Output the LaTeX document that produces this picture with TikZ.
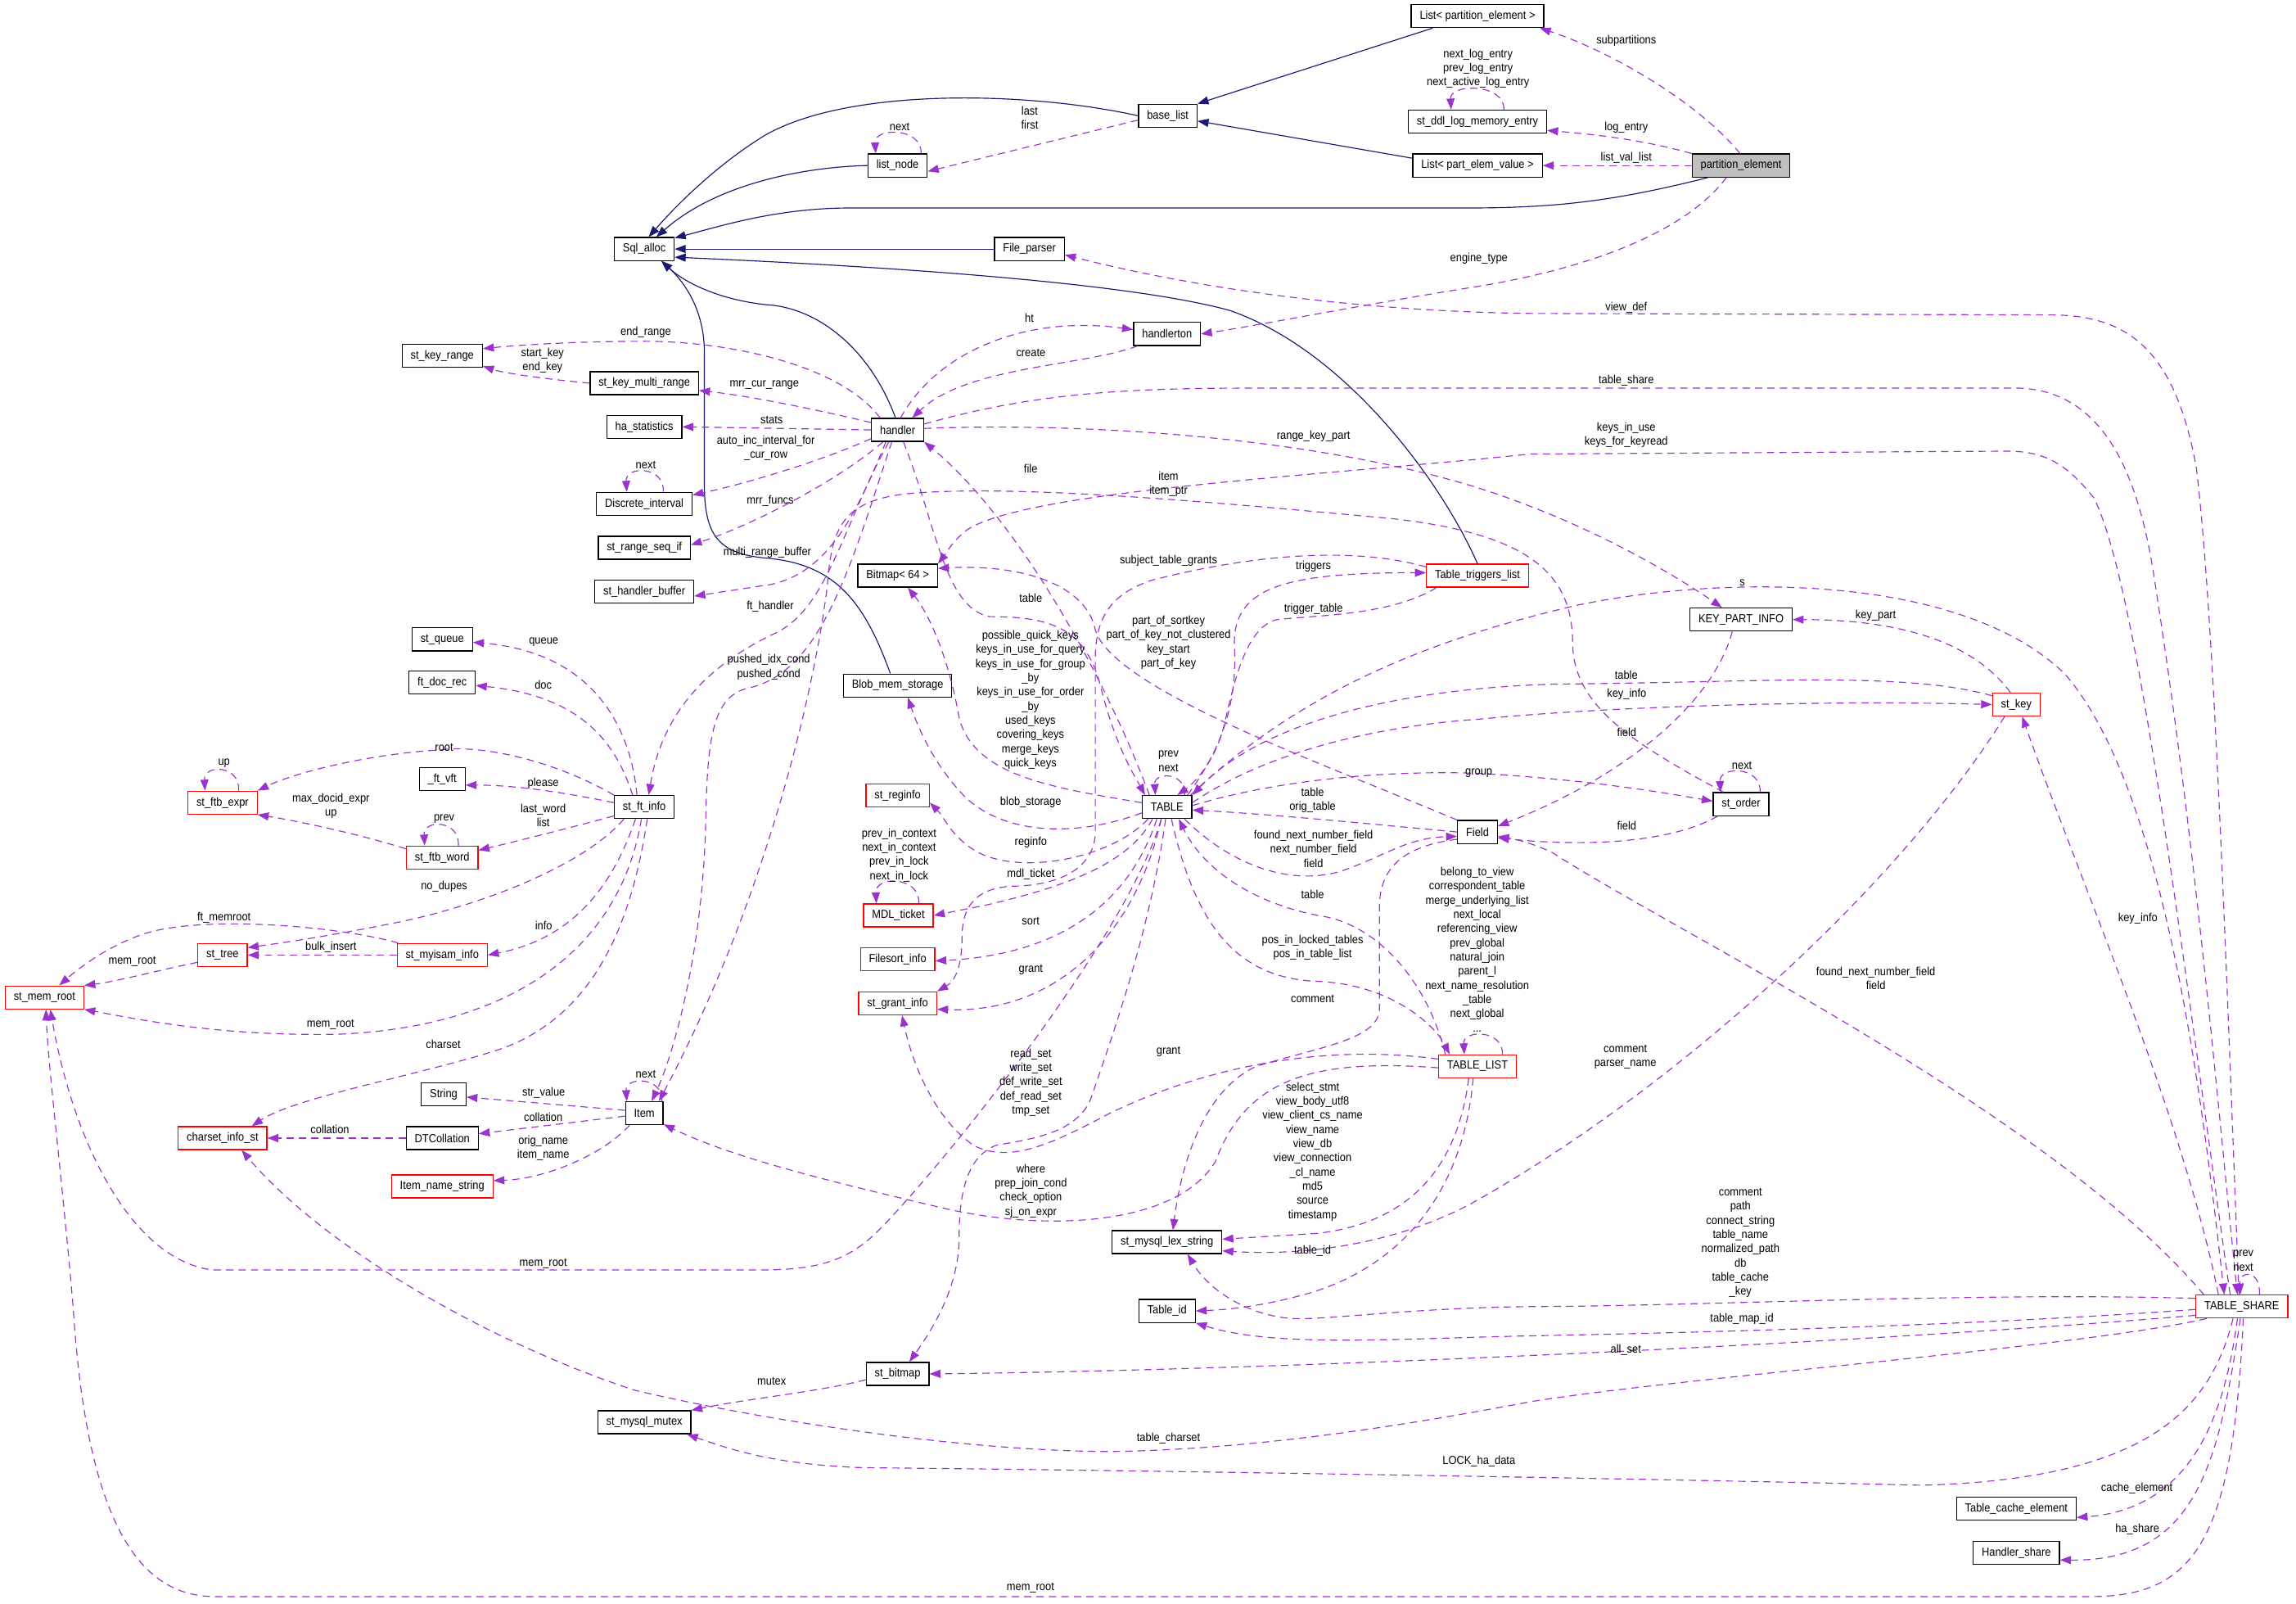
\documentclass[tikz,border=0pt]{standalone}
\usepackage{fontspec}
\setmainfont{Liberation Sans}[FakeStretch=0.9]
\usetikzlibrary{arrows.meta}
\definecolor{usePurple}{RGB}{154,50,205}
\definecolor{inhBlue}{RGB}{25,25,112}
\definecolor{boxRed}{RGB}{255,0,0}
\definecolor{focusGray}{RGB}{191,191,191}

\begin{document}
\begin{tikzpicture}[x=1pt,y=-1pt,
  every node/.style={font=\fontsize{8}{9.7}\selectfont},
  cls/.style={draw=black, line width=0.7pt, fill=white, minimum height=15.7pt, inner xsep=5.8pt, inner ysep=0pt},
  clsred/.style={cls, draw=boxRed},
  clsfocus/.style={cls, fill=focusGray},
  lbl/.style={align=center, inner sep=0pt},
  use/.style={draw=usePurple, line width=0.65pt, dash pattern=on 5pt off 3.5pt, -{Triangle[length=7.5pt,width=5.5pt]}},
  inh/.style={draw=inhBlue, line width=0.65pt, -{Triangle[length=7.5pt,width=5.5pt]}}]
\useasboundingbox (0,0) rectangle (1568,1095);

% classes
\node[cls] (sqlalloc) at (440,170) {Sql\_alloc};
\node[cls] (filep) at (703,170) {File\_parser};
\node[cls] (baselist) at (797.5,79) {base\_list};
\node[cls] (listnode) at (613,113) {list\_node};
\node[cls] (listpe) at (1009,11) {List< partition\_element >};
\node[cls] (ddllog) at (1009,83) {st\_ddl\_log\_memory\_entry};
\node[cls] (listpev) at (1009,113) {List< part\_elem\_value >};
\node[clsfocus] (partel) at (1189,113) {partition\_element};
\node[cls] (handlerton) at (797,228) {handlerton};
\node[cls] (keyrange) at (302,243) {st\_key\_range};
\node[cls] (keymulti) at (440,261.6) {st\_key\_multi\_range};
\node[cls] (hastat) at (440,291.4) {ha\_statistics};
\node[cls] (handler) at (613,293.5) {handler};
\node[cls] (discrete) at (440,344) {Discrete\_interval};
\node[cls] (rangeseq) at (440,374) {st\_range\_seq\_if};
\node[cls] (hbuffer) at (440,404) {st\_handler\_buffer};
\node[cls] (bitmap) at (613,393) {Bitmap< 64 >};
\node[clsred] (trigl) at (1009,393) {Table\_triggers\_list};
\node[cls] (keypart) at (1189,423) {KEY\_PART\_INFO};
\node[clsred] (stkey) at (1377,481) {st\_key};
\node[cls] (stqueue) at (302,436.5) {st\_queue};
\node[cls] (ftdoc) at (302,466) {ft\_doc\_rec};
\node[cls] (blob) at (613,468) {Blob\_mem\_storage};
\node[clsred] (ftbexpr) at (152,548) {st\_ftb\_expr};
\node[cls] (ftvft) at (302,532) {\_ft\_vft};
\node[cls] (ftinfo) at (440,551) {st\_ft\_info};
\node[clsred] (ftbword) at (302,585.5) {st\_ftb\_word};
\node[clsred] (reginfo) at (613,543) {st\_reginfo};
\node[cls] (table) at (797,551) {TABLE};
\node[cls] (storder) at (1189,549) {st\_order};
\node[cls] (field) at (1009,568) {Field};
\node[clsred] (mdl) at (613.5,625) {MDL\_ticket};
\node[clsred] (filesort) at (613,655) {Filesort\_info};
\node[clsred] (sttree) at (152,652) {st\_tree};
\node[clsred] (myisam) at (302,652) {st\_myisam\_info};
\node[clsred] (memroot) at (30.4,681) {st\_mem\_root};
\node[clsred] (grant) at (613,685) {st\_grant\_info};
\node[clsred] (tablelist) at (1009,728) {TABLE\_LIST};
\node[cls] (string) at (303,747) {String};
\node[cls] (item) at (440,760) {Item};
\node[clsred] (charset) at (152,777) {charset\_info\_st};
\node[cls] (dtcoll) at (302,777) {DTCollation};
\node[clsred] (itemname) at (302,810) {Item\_name\_string};
\node[cls] (lexstr) at (797,848) {st\_mysql\_lex\_string};
\node[cls] (tableid) at (797,895) {Table\_id};
\node[clsred] (tshare) at (1531,892) {TABLE\_SHARE};
\node[cls] (stbitmap) at (613,938) {st\_bitmap};
\node[cls] (mutex) at (440,971) {st\_mysql\_mutex};
\node[cls] (tcache) at (1377,1030) {Table\_cache\_element};
\node[cls] (hshare) at (1377,1060) {Handler\_share};

% inheritance
\draw[inh] (baselist.west) .. controls (700,62) and (580,60) .. (523,92) .. controls (490,112) and (462,140) .. (sqlalloc.70);
\draw[inh] (listnode.west) .. controls (550,114) and (490,125) .. (sqlalloc.45);
\draw[inh] (partel.200) .. controls (1100,138) and (1060,142) .. (1000,142) -- (580,142) .. controls (530,142) and (490,155) .. (sqlalloc.20);
\draw[inh] (filep.west) -- (sqlalloc.east);
\draw[inh] (trigl.north) .. controls (985,330) and (920,240) .. (840,212) .. controls (760,190) and (560,180) .. (sqlalloc.-15);
\draw[inh] (handler.100) .. controls (595,240) and (560,210) .. (523,208) .. controls (495,205) and (470,195) .. (sqlalloc.-35);
\draw[inh] ([xshift=-5pt]blob.north) .. controls (590,410) and (570,385) .. (523,381) .. controls (490,378) and (481,365) .. (481,330) -- (481,240) .. controls (481,215) and (470,195) .. (sqlalloc.-35);
\draw[inh] (listpe.195) -- (baselist.north east);
\draw[inh] ([yshift=5pt]listpev.west) -- (baselist.-10);

% partition_element and lists
\draw[use] (partel.95) .. controls (1160,70) and (1100,35) .. ([xshift=-3pt]listpe.south east);
\draw[use] (partel.north west) .. controls (1120,95) and (1090,92) .. ([yshift=-6pt]ddllog.east);
\draw[use] (partel.west) -- (listpev.east);
\draw[use] ([xshift=-10pt]partel.south) .. controls (1150,160) and (1080,185) .. (1000,197) .. controls (920,210) and (860,222) .. (handlerton.east);
\draw[use] ([xshift=18pt]ddllog.north) .. controls +(1,-18) and +(-1,-18) .. ([xshift=-18pt]ddllog.north);
\draw[use] ([yshift=-3pt]baselist.west) -- ([yshift=-4pt]listnode.east);
\draw[use] ([xshift=16pt]listnode.north) .. controls +(1,-18) and +(-1,-18) .. ([xshift=-15pt]listnode.north);

% TABLE_SHARE upward
\draw[use] ([xshift=-2pt]tshare.north) .. controls (1520,650) and (1512,420) .. (1500,320) .. controls (1485,235) and (1450,215) .. (1400,215) -- (1045,214) .. controls (900,212) and (790,190) .. ([yshift=-4pt]filep.east);
\draw[use] ([yshift=4pt]handler.east) .. controls (700,270) and (760,265) .. (850,265) -- (1380,265) .. controls (1440,268) and (1462,330) .. (1472,400) .. controls (1500,580) and (1515,760) .. ([xshift=-3pt]tshare.north);
\draw[use] ([xshift=-8pt]tshare.north) .. controls (1490,650) and (1460,400) .. (1430,340) .. controls (1410,315) and (1395,308) .. (1370,308) -- (1045,310) .. controls (900,325) and (700,335) .. (660,362) .. controls (650,370) and (646,378) .. (bitmap.north east);
\draw[use] ([xshift=-16pt]tshare.north) .. controls (1490,760) and (1420,600) .. ([xshift=4pt]stkey.south);
\draw[use] ([xshift=-26pt]tshare.north) .. controls (1400,760) and (1150,640) .. (1060,582) .. controls (1045,575) and (1035,573) .. ([yshift=-3pt]field.east);
\draw[use] ([xshift=12pt]tshare.north) .. controls +(1,-17) and +(-1,-17) .. ([xshift=-1pt]tshare.north);

% handler
\draw[use] ([xshift=2pt]handler.north) .. controls (640,240) and (700,215) .. ([yshift=3pt]handlerton.west);
\draw[use] ([xshift=3pt]handlerton.south west) .. controls (740,250) and (660,250) .. ([xshift=10pt]handler.north);
\draw[use] ([xshift=-12pt]handler.north) .. controls (575,250) and (500,233) .. (440,233) .. controls (390,233) and (350,236) .. ([yshift=5pt]keyrange.east);
\draw[use] (keymulti.west) .. controls (375,259) and (345,255) .. ([yshift=-7pt]keyrange.east);
\draw[use] ([yshift=5pt]handler.west) .. controls (560,280) and (510,270) .. ([yshift=-5pt]keymulti.east);
\draw[use] (handler.west) -- (hastat.east);
\draw[use] ([yshift=-6pt]handler.west) .. controls (560,315) and (510,330) .. ([yshift=6pt]discrete.east);
\draw[use] ([xshift=13pt]discrete.north) .. controls +(1,-18) and +(-1,-18) .. ([xshift=-12pt]discrete.north);
\draw[use] ([xshift=-10pt]handler.south) .. controls (570,330) and (510,360) .. ([yshift=2pt]rangeseq.east);
\draw[use] ([xshift=-8pt]handler.south) .. controls (585,350) and (565,395) .. (520,400) -- ([yshift=-3pt]hbuffer.east);
\draw[use] ([xshift=-6pt]handler.south) .. controls (575,360) and (565,415) .. (530,432) .. controls (470,460) and (450,500) .. ([xshift=3pt]ftinfo.north);
\draw[use] ([xshift=-4pt]handler.south) .. controls (580,390) and (560,460) .. (510,470) .. controls (488,476) and (483,500) .. (482,560) .. controls (480,650) and (460,720) .. ([xshift=5pt]item.north);
\draw[use] ([xshift=-12pt]table.north) .. controls (750,450) and (690,350) .. (handler.south east);
\draw[use] ([xshift=4pt]handler.south) .. controls (640,360) and (645,415) .. (676,421) .. controls (720,421) and (742,430) .. (752,470) .. controls (762,510) and (775,530) .. ([xshift=-15pt]table.north);
\draw[use] ([yshift=1pt]handler.east) .. controls (750,288) and (900,300) .. (1006,332) .. controls (1080,355) and (1140,390) .. ([xshift=-13pt]keypart.north);

% TABLE
\draw[use] ([yshift=3pt]table.west) .. controls (720,538) and (665,530) .. (655,490) .. controls (648,450) and (635,420) .. ([xshift=7pt]bitmap.south);
\draw[use] (field.north west) .. controls (900,520) and (760,470) .. (748,430) .. controls (742,400) and (700,385) .. ([yshift=5pt]bitmap.east);
\draw[use] ([yshift=-4pt]table.west) .. controls (740,570) and (690,572) .. (660,545) .. controls (640,525) and (628,500) .. ([xshift=7pt]blob.south);
\draw[use] ([xshift=-13pt]table.south) .. controls (760,585) and (700,598) .. (668,582) .. controls (650,572) and (645,558) .. ([yshift=-5pt]reginfo.east);
\draw[use] ([xshift=-10pt]table.south) .. controls (770,592) and (720,607) .. (673,618) -- (mdl.east);
\draw[use] ([xshift=14pt]mdl.north) .. controls +(1,-19) and +(-1,-19) .. ([xshift=-15pt]mdl.north);
\draw[use] ([xshift=-7pt]table.south) .. controls (770,620) and (720,652) .. ([yshift=-1pt]filesort.east);
\draw[use] ([xshift=-4pt]table.south) .. controls (775,640) and (720,692) .. ([yshift=-4pt]grant.east);
\draw[use] ([xshift=-1pt]table.south) .. controls (785,640) and (755,720) .. (745,750) .. controls (735,775) and (700,778) .. (680,782) .. controls (660,790) and (655,815) .. (655,845) .. controls (655,880) and (635,910) .. ([xshift=8pt]stbitmap.north);
\draw[use] ([xshift=-4pt]table.south) .. controls (770,640) and (640,800) .. (600,840) .. controls (580,860) and (560,867) .. (520,867) -- (145,867) .. controls (90,860) and (50,780) .. ([xshift=4pt]memroot.south);
\draw[use] ([xshift=14pt]table.north) .. controls (835,510) and (845,480) .. (843,440) .. controls (842,400) and (880,391) .. ([yshift=2pt]trigl.west);
\draw[use] ([xshift=-28pt]trigl.south) .. controls (950,420) and (900,420) .. (872,423) .. controls (850,428) and (842,470) .. (836,495) .. controls (830,520) and (815,535) .. ([xshift=7pt]table.north);
\draw[use] ([xshift=12pt]table.north) .. controls +(1,-16) and +(-1,-16) .. ([xshift=-8pt]table.north);
\draw[use] ([yshift=6pt]trigl.west) .. controls (920,372) and (850,380) .. (787,396) .. controls (760,405) and (748,420) .. (748,450) -- (748,570) .. controls (746,595) and (720,605) .. (690,605) .. controls (665,607) and (657,620) .. (657,640) .. controls (657,660) and (652,670) .. (grant.north east);
\draw[use] (stkey.160) .. controls (1300,458) and (1200,466) .. (1064,467) .. controls (950,470) and (860,495) .. (table.north east);
\draw[use] ([yshift=3pt]table.east) .. controls (870,510) and (950,495) .. (1010,491) .. controls (1100,482) and (1250,478) .. (stkey.west);
\draw[use] ([xshift=16pt]table.north) .. controls (880,480) and (960,440) .. (1078,413) .. controls (1180,392) and (1340,392) .. (1410,460) .. controls (1480,540) and (1505,760) .. ([xshift=-12pt]tshare.north);
\draw[use] ([yshift=1pt]table.east) .. controls (880,530) and (960,526) .. (1010,528) .. controls (1080,532) and (1130,540) .. ([yshift=2pt]storder.west);
\draw[use] ([xshift=12pt]table.south) .. controls (840,590) and (880,605) .. (915,595) .. controls (945,585) and (960,572) .. ([yshift=-3pt]field.west);
\draw[use] (field.west) .. controls (930,562) and (870,556) .. ([yshift=-2pt]table.east);
\draw[use] ([yshift=-5pt]field.west) .. controls (955,578) and (942,595) .. (942,620) -- (942,690) .. controls (940,710) and (900,715) .. (858,728) .. controls (820,745) and (806,800) .. ([xshift=4pt]lexstr.north);

% st_order, KEY_PART_INFO, st_key
\draw[use] ([xshift=-12pt]storder.north) .. controls (1110,505) and (1075,480) .. (1074,440) .. controls (1074,395) and (1050,365) .. (950,354) .. controls (850,345) and (700,330) .. (620,337) .. controls (575,342) and (568,360) .. (565,400) .. controls (555,480) and (520,620) .. ([xshift=10pt]item.north);
\draw[use] ([xshift=13pt]storder.north) .. controls +(1,-18) and +(-1,-18) .. ([xshift=-14pt]storder.north);
\draw[use] ([xshift=-16pt]storder.south) .. controls (1140,576) and (1080,578) .. ([yshift=-4pt]field.east);
\draw[use] ([xshift=-6pt]keypart.south) .. controls (1170,480) and (1110,530) .. ([yshift=4pt]field.east);
\draw[use] ([xshift=-4pt]stkey.north) .. controls (1345,435) and (1290,423) .. (keypart.east);
\draw[use] ([xshift=-8pt]stkey.south) .. controls (1300,600) and (1150,740) .. (1006,821) .. controls (960,846) and (900,858) .. ([yshift=-6pt]lexstr.east);

% TABLE_LIST
\draw[use] ([xshift=-22pt]tablelist.north) .. controls (975,670) and (940,630) .. (900,625) .. controls (850,615) and (820,590) .. ([xshift=8pt]table.south);
\draw[use] ([xshift=3pt]table.south) .. controls (815,625) and (840,668) .. (900,670) .. controls (950,672) and (980,700) .. ([xshift=-19pt]tablelist.north);
\draw[use] ([xshift=17pt]tablelist.north) .. controls +(1,-17) and +(-1,-17) .. ([xshift=-9pt]tablelist.north);
\draw[use] ([yshift=5pt]tablelist.west) .. controls (900,712) and (820,730) .. (758,760) .. controls (720,780) and (690,795) .. (665,782) .. controls (640,765) and (624,730) .. ([xshift=3pt]grant.south);
\draw[use] ([yshift=-1pt]tablelist.west) .. controls (890,722) and (850,740) .. (830,793) .. controls (805,835) and (720,842) .. (645,825) .. controls (560,805) and (500,790) .. (item.-30);
\draw[use] ([xshift=-6pt]tablelist.south) .. controls (995,800) and (960,835) .. (900,842) -- ([yshift=2pt]lexstr.east);
\draw[use] ([xshift=-3pt]tablelist.south) .. controls (1000,810) and (960,865) .. (890,884) .. controls (860,892) and (840,894) .. (tableid.east);

% TABLE_SHARE downward
\draw[use] (tshare.170) .. controls (1350,882) and (1150,892) .. (1045,892) .. controls (960,893) and (900,902) .. (880,900) .. controls (850,897) and (825,880) .. ([xshift=14pt]lexstr.south);
\draw[use] ([yshift=-2pt]tshare.west) .. controls (1350,905) and (1150,910) .. (1045,912) .. controls (950,914) and (870,920) .. (tableid.south east);
\draw[use] ([yshift=-6pt]tshare.west) .. controls (1300,915) and (900,935) .. (stbitmap.east);
\draw[use] ([xshift=-24pt]tshare.south) .. controls (1420,920) and (1150,940) .. (1045,957) .. controls (950,975) and (850,990) .. (756,991) .. controls (640,990) and (500,965) .. (433,949) .. controls (330,915) and (220,850) .. ([xshift=13pt]charset.south);
\draw[use] ([xshift=-6pt]tshare.south) .. controls (1510,960) and (1470,1010) .. (1312,1014) .. controls (1150,1010) and (800,1004) .. (590,1002) .. controls (530,1000) and (500,990) .. ([xshift=-3pt]mutex.south east);
\draw[use] ([xshift=-3pt]tshare.south) .. controls (1520,960) and (1500,1030) .. ([yshift=-6pt]tcache.east);
\draw[use] ([xshift=-1pt]tshare.south) .. controls (1515,1000) and (1500,1066) .. ([yshift=-5pt]hshare.east);
\draw[use] ([xshift=1pt]tshare.south) .. controls (1525,1050) and (1500,1090) .. (1428,1090) -- (147,1090) .. controls (100,1090) and (60,1050) .. (50,893) .. controls (42,800) and (33,730) .. ([xshift=1pt]memroot.south);
\draw[use] ([yshift=-4pt]stbitmap.west) .. controls (560,950) and (510,955) .. (mutex.north east);

% st_ft_info
\draw[use] ([xshift=-5pt]ftinfo.north) .. controls (430,490) and (400,445) .. ([yshift=-2pt]stqueue.east);
\draw[use] ([xshift=-8pt]ftinfo.north) .. controls (420,505) and (395,475) .. ([yshift=-2pt]ftdoc.east);
\draw[use] (ftinfo.north west) .. controls (380,520) and (330,508) .. (300,512) .. controls (250,515) and (200,528) .. (ftbexpr.north east);
\draw[use] ([yshift=3pt]ftinfo.west) .. controls (380,540) and (350,536) .. ([yshift=-4pt]ftvft.east);
\draw[use] ([yshift=-6pt]ftinfo.west) .. controls (390,565) and (350,575) .. ([yshift=5pt]ftbword.east);
\draw[use] ([yshift=6pt]ftbword.west) .. controls (240,568) and (200,560) .. (ftbexpr.south east);
\draw[use] ([xshift=11pt]ftbexpr.north) .. controls +(1,-18) and +(-1,-18) .. ([xshift=-12pt]ftbexpr.north);
\draw[use] ([xshift=11pt]ftbword.north) .. controls +(1,-18) and +(-1,-18) .. ([xshift=-12pt]ftbword.north);
\draw[use] ([xshift=-14pt]ftinfo.south) .. controls (400,590) and (330,618) .. (270,630) .. controls (220,640) and (190,644) .. ([yshift=5pt]sttree.east);
\draw[use] ([xshift=-6pt]ftinfo.south) .. controls (420,600) and (395,640) .. (myisam.east);
\draw[use] (myisam.west) -- (sttree.east);
\draw[use] ([xshift=-30pt]myisam.north) .. controls (230,632) and (140,625) .. (100,637) .. controls (75,645) and (55,660) .. ([xshift=10pt]memroot.north);
\draw[use] ([yshift=-5pt]sttree.west) .. controls (110,662) and (80,670) .. (memroot.north east);
\draw[use] ([xshift=-2pt]ftinfo.south) .. controls (425,640) and (360,700) .. (233,706) .. controls (150,708) and (90,695) .. (memroot.south east);
\draw[use] ([xshift=2pt]ftinfo.south) .. controls (430,640) and (400,700) .. (333,719) .. controls (280,735) and (200,750) .. ([xshift=20pt]charset.north);

% Item
\draw[use] ([yshift=2pt]item.west) -- ([yshift=-2pt]string.east);
\draw[use] ([yshift=-2pt]item.west) -- ([yshift=3pt]dtcoll.east);
\draw[use] (dtcoll.west) -- (charset.east);
\draw[use] ([xshift=-10pt]item.south) .. controls (410,790) and (370,805) .. ([yshift=4pt]itemname.east);
\draw[use] ([xshift=12pt]item.north) .. controls +(1,-17) and +(-1,-17) .. ([xshift=-12pt]item.north);

% labels
\node[lbl] (lSubpart) at (1110.6,28) {subpartitions};
\node[lbl] (lLogEntry) at (1110.6,87) {log\_entry};
\node[lbl] (lListVal) at (1110.6,107.6) {list\_val\_list};
\node[lbl] (lDdlLoop) at (1009.4,46.8) {next\_log\_entry\\prev\_log\_entry\\next\_active\_log\_entry};
\node[lbl] (lLastFirst) at (703.2,80.5) {last\\first};
\node[lbl] (lListNext) at (614.4,86.4) {next};
\node[lbl] (lEngine) at (1010,176.5) {engine\_type};
\node[lbl] (lViewDef) at (1110.6,209.8) {view\_def};
\node[lbl] (lHt) at (703,217) {ht};
\node[lbl] (lCreate) at (704,240.7) {create};
\node[lbl] (lEndRange) at (441,227) {end\_range};
\node[lbl] (lStartEnd) at (370.5,246) {start\_key\\end\_key};
\node[lbl] (lTblShare) at (1110.6,259.6) {table\_share};
\node[lbl] (lMrrCur) at (522,263) {mrr\_cur\_range};
\node[lbl] (lStats) at (527,286.5) {stats};
\node[lbl] (lKeysInUse) at (1110.6,297) {keys\_in\_use\\keys\_for\_keyread};
\node[lbl] (lRangeKey) at (897,297.7) {range\_key\_part};
\node[lbl] (lAutoInc) at (523,306) {auto\_inc\_interval\_for\\\_cur\_row};
\node[lbl] (lDiscNext) at (441,317.3) {next};
\node[lbl] (lFile) at (703.9,319.8) {file};
\node[lbl] (lItem) at (798,330.4) {item\\item\_ptr};
\node[lbl] (lMrrFuncs) at (526,342) {mrr\_funcs};
\node[lbl] (lMultiRange) at (524,377) {multi\_range\_buffer};
\node[lbl] (lSubject) at (798,382.6) {subject\_table\_grants};
\node[lbl] (lTriggers) at (897,386.5) {triggers};
\node[lbl] (lS) at (1189.9,398) {s};
\node[lbl] (lTable1) at (703.9,408.2) {table};
\node[lbl] (lFtHandler) at (526,414) {ft\_handler};
\node[lbl] (lTrigTable) at (897,415.5) {trigger\_table};
\node[lbl] (lKeyPart) at (1281,420.3) {key\_part};
\node[lbl] (lPartOf) at (798,438.6) {part\_of\_sortkey\\part\_of\_key\_not\_clustered\\key\_start\\part\_of\_key};
\node[lbl] (lQuickKeys) at (703.7,477.8) {possible\_quick\_keys\\keys\_in\_use\_for\_query\\keys\_in\_use\_for\_group\\\_by\\keys\_in\_use\_for\_order\\\_by\\used\_keys\\covering\_keys\\merge\_keys\\quick\_keys};
\node[lbl] (lQueue) at (371.3,438.1) {queue};
\node[lbl] (lPushed) at (525,455.5) {pushed\_idx\_cond\\pushed\_cond};
\node[lbl] (lTable2) at (1110.6,460.8) {table};
\node[lbl] (lDoc) at (371,467.7) {doc};
\node[lbl] (lKeyInfo) at (1110.9,473.7) {key\_info};
\node[lbl] (lField1) at (1110.9,499.9) {field};
\node[lbl] (lRoot) at (303.3,510.3) {root};
\node[lbl] (lTblLoop) at (798,519.7) {prev\\next};
\node[lbl] (lUp) at (153,521) {up};
\node[lbl] (lOrderNext) at (1189.6,522.4) {next};
\node[lbl] (lGroup) at (1009.9,527.6) {group};
\node[lbl] (lPlease) at (371,534.7) {please};
\node[lbl] (lTableOrig) at (896.4,546.2) {table\\orig\_table};
\node[lbl] (lBlobSt) at (703.9,547.9) {blob\_storage};
\node[lbl] (lMaxDocid) at (226,550.3) {max\_docid\_expr\\up};
\node[lbl] (lLastWord) at (371,556.6) {last\_word\\list};
\node[lbl] (lPrev) at (303.3,558.9) {prev};
\node[lbl] (lField2) at (1110.9,563.5) {field};
\node[lbl] (lMdlLoop) at (614,583.9) {prev\_in\_context\\next\_in\_context\\prev\_in\_lock\\next\_in\_lock};
\node[lbl] (lFoundNext) at (897,579.6) {found\_next\_number\_field\\next\_number\_field\\field};
\node[lbl] (lReginfo) at (704,575) {reginfo};
\node[lbl] (lTLLoop) at (1008.8,648.2) {belong\_to\_view\\correspondent\_table\\merge\_underlying\_list\\next\_local\\referencing\_view\\prev\_global\\natural\_join\\parent\_l\\next\_name\_resolution\\\_table\\next\_global\\...};
\node[lbl] (lMdlTicket) at (704,597) {mdl\_ticket};
\node[lbl] (lNoDupes) at (303.3,605.2) {no\_dupes};
\node[lbl] (lTable3) at (896.4,610.4) {table};
\node[lbl] (lKeyInfo2) at (1460,627) {key\_info};
\node[lbl] (lFtMemroot) at (153,626.4) {ft\_memroot};
\node[lbl] (lSort) at (703.9,628.7) {sort};
\node[lbl] (lInfo) at (371.3,631.8) {info};
\node[lbl] (lPosIn) at (896.4,647) {pos\_in\_locked\_tables\\pos\_in\_table\_list};
\node[lbl] (lBulk) at (226,646.5) {bulk\_insert};
\node[lbl] (lMemRoot1) at (90.3,656.7) {mem\_root};
\node[lbl] (lGrant1) at (704,662.2) {grant};
\node[lbl] (lFoundNext2) at (1281,667.9) {found\_next\_number\_field\\field};
\node[lbl] (lComment) at (896.4,681.7) {comment};
\node[lbl] (lMemRoot2) at (225.7,699.3) {mem\_root};
\node[lbl] (lCharset) at (302.7,713) {charset};
\node[lbl] (lCommentParser) at (1110,721.7) {comment\\parser\_name};
\node[lbl] (lGrant2) at (798,718) {grant};
\node[lbl] (lReadSet) at (704,739) {read\_set\\write\_set\\def\_write\_set\\def\_read\_set\\tmp\_set};
\node[lbl] (lItemNext) at (441,733.4) {next};
\node[lbl] (lStrValue) at (371.3,746.2) {str\_value};
\node[lbl] (lSelect) at (896.4,786.2) {select\_stmt\\view\_body\_utf8\\view\_client\_cs\_name\\view\_name\\view\_db\\view\_connection\\\_cl\_name\\md5\\source\\timestamp};
\node[lbl] (lColl1) at (371,762.5) {collation};
\node[lbl] (lColl2) at (225.3,771.3) {collation};
\node[lbl] (lOrigName) at (371,783.8) {orig\_name\\item\_name};
\node[lbl] (lWhere) at (704,813.1) {where\\prep\_join\_cond\\check\_option\\sj\_on\_expr};
\node[lbl] (lComment2) at (1188.6,848.6) {comment\\path\\connect\_string\\table\_name\\normalized\_path\\db\\table\_cache\\\_key};
\node[lbl] (lTableId) at (896.4,854.2) {table\_id};
\node[lbl] (lTsLoop) at (1532,860.7) {prev\\next};
\node[lbl] (lMemRoot3) at (371,862.8) {mem\_root};
\node[lbl] (lTableMap) at (1189.6,900.5) {table\_map\_id};
\node[lbl] (lAllSet) at (1110.3,921.5) {all\_set};
\node[lbl] (lMutex) at (527,943) {mutex};
\node[lbl] (lTblCharset) at (798,981.8) {table\_charset};
\node[lbl] (lLockHa) at (1010,997.4) {LOCK\_ha\_data};
\node[lbl] (lCacheEl) at (1459.3,1016) {cache\_element};
\node[lbl] (lHaShare) at (1459.6,1043.9) {ha\_share};
\node[lbl] (lMemRoot4) at (703.7,1084.2) {mem\_root};
\end{tikzpicture}
\end{document}
